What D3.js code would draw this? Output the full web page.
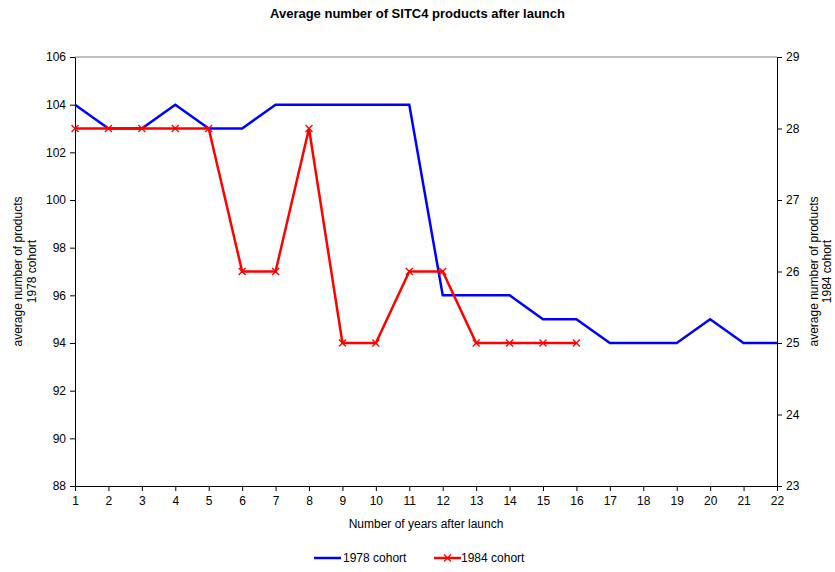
<!DOCTYPE html>
<html>
<head>
<meta charset="utf-8">
<script src="https://cdn.jsdelivr.net/npm/d3@7"></script>
<style>
  body { margin: 0; background: #fff; }
  text { font-family: "Liberation Sans", Arial, sans-serif; }
</style>
</head>
<body>
<div id="chart"></div>
<script>
// data
var years = d3.range(1, 23);
var cohort1978 = [104, 103, 103, 104, 103, 103, 104, 104, 104, 104, 104, 96, 96, 96, 95, 95, 94, 94, 94, 95, 94, 94];
var cohort1984 = [28, 28, 28, 28, 28, 26, 26, 28, 25, 25, 26, 26, 25, 25, 25, 25];
var leftTicks = [88, 90, 92, 94, 96, 98, 100, 102, 104, 106];
var rightTicks = [23, 24, 25, 26, 27, 28, 29];

var W = 835, H = 572;
var margin = {top: 57, right: 58, bottom: 86, left: 75};
var width = W - margin.left - margin.right;
var height = H - margin.top - margin.bottom;

var svg = d3.select("#chart").append("svg")
    .attr("width", W)
    .attr("height", H);

var g = svg.append("g")
    .attr("transform", "translate(" + margin.left + "," + margin.top + ")");

var x = d3.scaleLinear().domain([1, 22]).range([0, width]);
var yL = d3.scaleLinear().domain([88, 106]).range([height, 0]);
var yR = d3.scaleLinear().domain([23, 29]).range([height, 0]);

// top border of plot area
g.append("line")
    .attr("x1", 0).attr("x2", width)
    .attr("y1", 0).attr("y2", 0)
    .style("stroke", "#808080");

// axes
var axL = g.append("g")
    .call(d3.axisLeft(yL).tickValues(leftTicks).tickSize(5).tickSizeOuter(0).tickPadding(4));
var axR = g.append("g")
    .attr("transform", "translate(" + width + ",0)")
    .call(d3.axisRight(yR).tickValues(rightTicks).tickFormat(d3.format("d")).tickSize(5).tickSizeOuter(0).tickPadding(4));
var axB = g.append("g")
    .attr("transform", "translate(0," + height + ")")
    .call(d3.axisBottom(x).tickValues(years).tickFormat(d3.format("d")).tickSize(5).tickSizeOuter(0).tickPadding(5));

[axL, axR, axB].forEach(function (a) {
    a.selectAll("text").style("font-size", "12px").style("fill", "#000");
    a.selectAll("line, path").style("stroke", "#000");
});

// lines
var lineL = d3.line()
    .x(function (d, i) { return x(years[i]); })
    .y(function (d) { return yL(d); });
var lineR = d3.line()
    .x(function (d, i) { return x(years[i]); })
    .y(function (d) { return yR(d); });

g.append("path")
    .datum(cohort1978)
    .attr("d", lineL)
    .style("fill", "none")
    .style("stroke", "#0000ff")
    .style("stroke-width", 2.5);

g.append("path")
    .datum(cohort1984)
    .attr("d", lineR)
    .style("fill", "none")
    .style("stroke", "#ff0000")
    .style("stroke-width", 2.5);

// x markers on the 1984 series
var s = 3.5;
g.selectAll("path.mark")
    .data(cohort1984)
    .enter()
    .append("path")
    .attr("class", "mark")
    .attr("transform", function (d, i) { return "translate(" + x(years[i]) + "," + yR(d) + ")"; })
    .attr("d", "M" + -s + "," + -s + "L" + s + "," + s + "M" + -s + "," + s + "L" + s + "," + -s)
    .style("stroke", "#ff0000")
    .style("stroke-width", 1.3);

// titles
svg.append("text")
    .attr("x", W / 2).attr("y", 18)
    .attr("text-anchor", "middle")
    .style("font-size", "13px")
    .style("font-weight", "bold")
    .text("Average number of SITC4 products after launch");

svg.append("text")
    .attr("x", margin.left + width / 2).attr("y", 528)
    .attr("text-anchor", "middle")
    .style("font-size", "12px")
    .text("Number of years after launch");

var yLabL = svg.append("text")
    .attr("transform", "translate(22," + (margin.top + height / 2) + ") rotate(-90)")
    .attr("text-anchor", "middle")
    .style("font-size", "12px");
yLabL.append("tspan").attr("x", 0).attr("dy", 0).text("average number of products");
yLabL.append("tspan").attr("x", 0).attr("dy", 14).text("1978 cohort");

var yLabR = svg.append("text")
    .attr("transform", "translate(818," + (margin.top + height / 2) + ") rotate(-90)")
    .attr("text-anchor", "middle")
    .style("font-size", "12px");
yLabR.append("tspan").attr("x", 0).attr("dy", 0).text("average number of products");
yLabR.append("tspan").attr("x", 0).attr("dy", 13).text("1984 cohort");

// legend
var legend = svg.append("g").attr("transform", "translate(314,558)");
legend.append("line")
    .attr("x1", 0).attr("x2", 27).attr("y1", 0).attr("y2", 0)
    .style("stroke", "#0000ff").style("stroke-width", 2.5);
legend.append("text")
    .attr("x", 29).attr("y", 4)
    .style("font-size", "12px")
    .text("1978 cohort");
legend.append("line")
    .attr("x1", 120).attr("x2", 147).attr("y1", 0).attr("y2", 0)
    .style("stroke", "#ff0000").style("stroke-width", 2.5);
legend.append("path")
    .attr("transform", "translate(133.5,0)")
    .attr("d", "M" + -s + "," + -s + "L" + s + "," + s + "M" + -s + "," + s + "L" + s + "," + -s)
    .style("stroke", "#ff0000").style("stroke-width", 1.3);
legend.append("text")
    .attr("x", 147).attr("y", 4)
    .style("font-size", "12px")
    .text("1984 cohort");
</script>
</body>
</html>
